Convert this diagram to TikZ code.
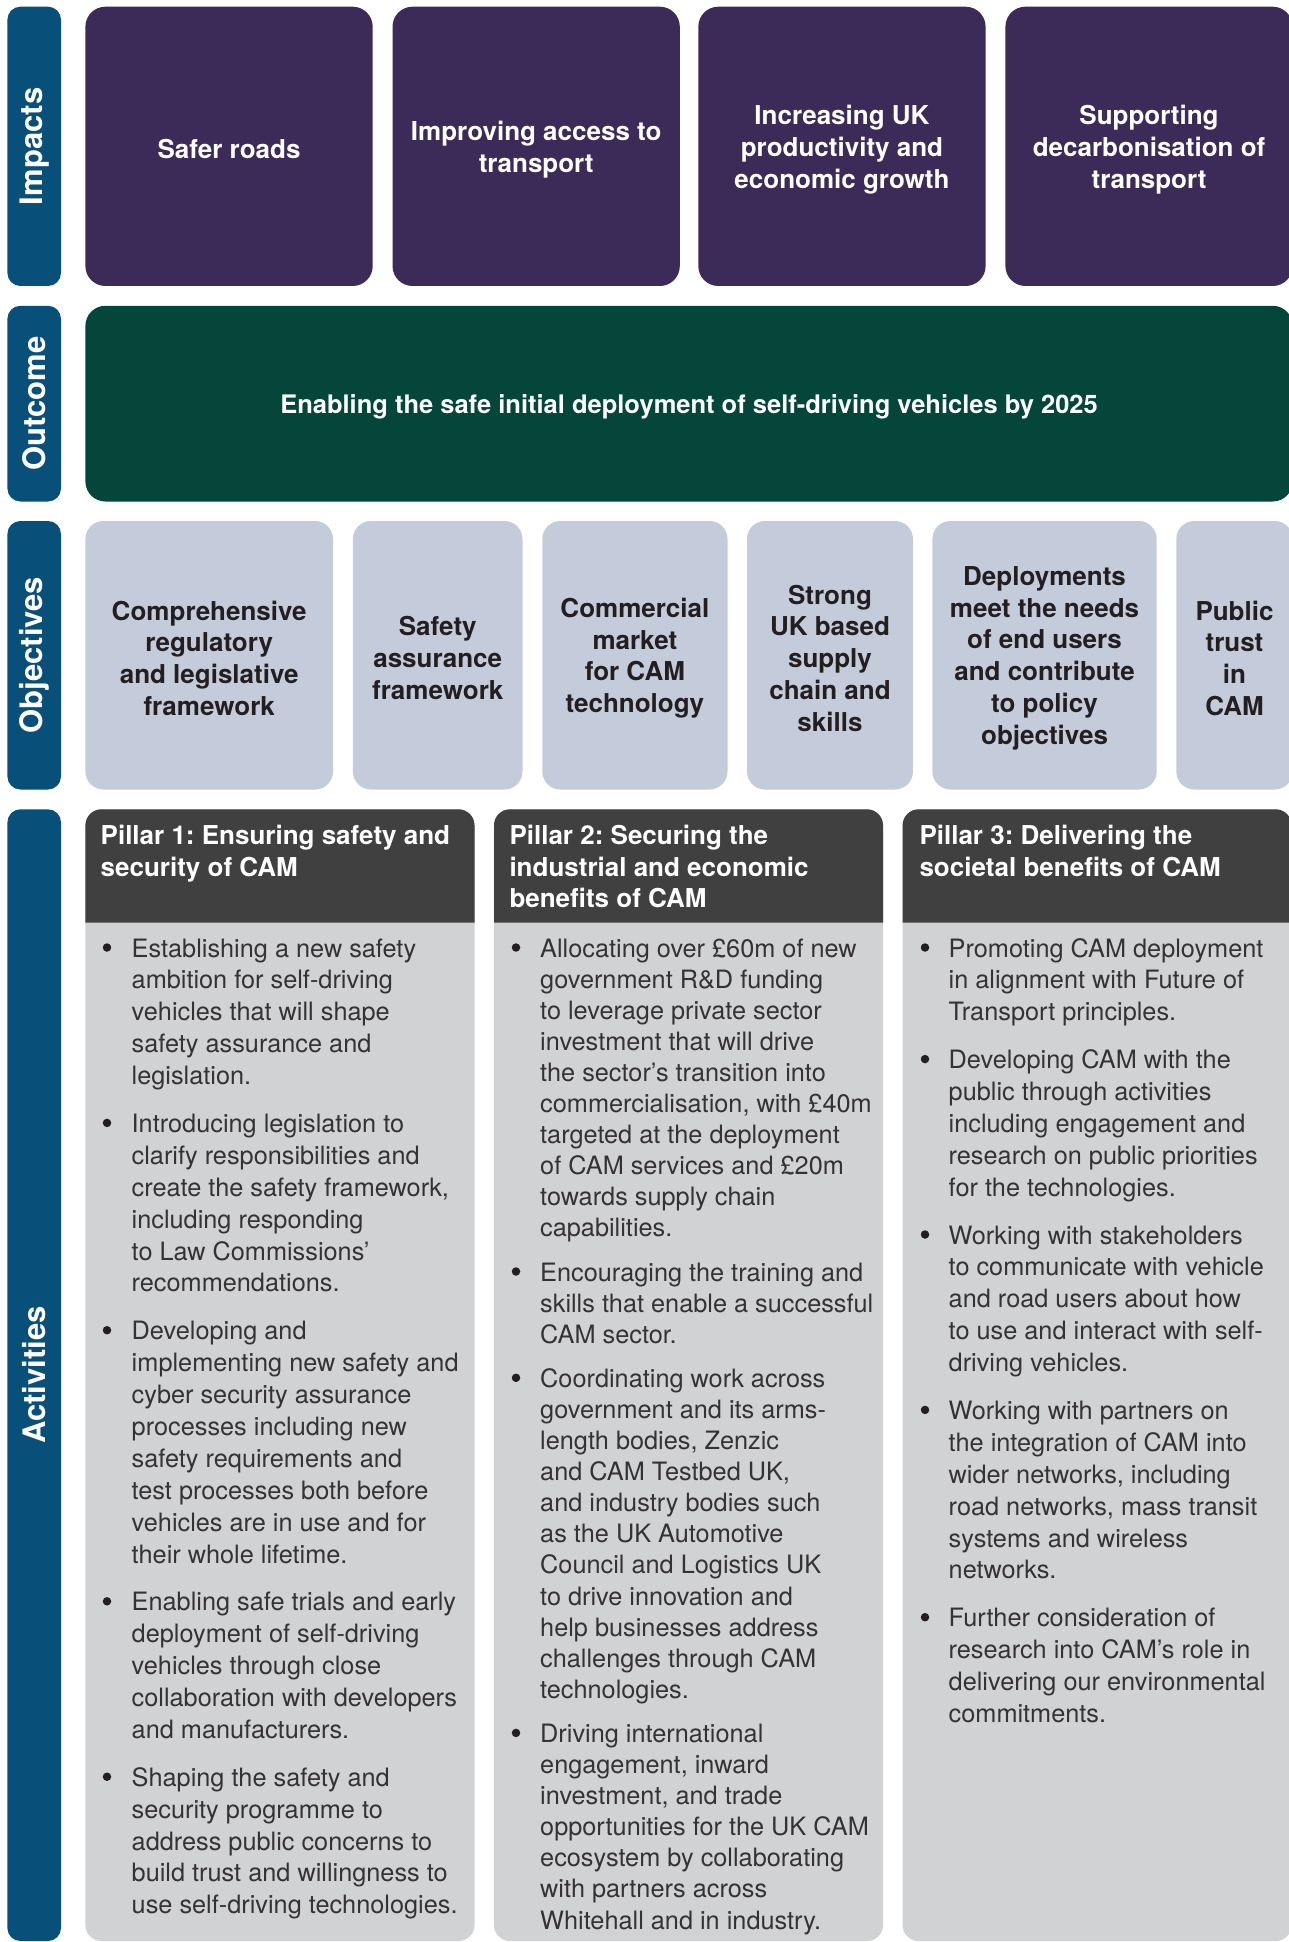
\documentclass[tikz,border=0pt]{standalone}
\usepackage{fontspec}
\setmainfont{TeX Gyre Heros}
\definecolor{tabblue}{HTML}{084F7A}
\definecolor{impactpurple}{HTML}{3C2A58}
\definecolor{outgreen}{HTML}{05463A}
\definecolor{objfill}{HTML}{C4CBDA}
\definecolor{hdrfill}{HTML}{404040}
\definecolor{bodyfill}{HTML}{D1D2D4}
\definecolor{textdark}{HTML}{231F20}
\definecolor{bodytext}{HTML}{353233}
\newcommand\cellpar[1]{\parbox[t]{400pt}{\raggedright\frenchspacing #1}}
\begin{document}
\frenchspacing
\begin{tikzpicture}[x=1pt,y=-1pt,
  tab/.style={fill=tabblue, rounded corners=13pt, inner sep=0pt, draw=none, minimum width=53.6pt},
  tablabel/.style={rotate=90, text=white, inner sep=0pt, font=\bfseries\fontsize{31}{36}\selectfont},
  impact/.style={fill=impactpurple, rounded corners=20pt, inner sep=0pt,
     minimum width=287.3pt, minimum height=279.3pt},
  impacttext/.style={text=white, align=center, inner sep=0pt, yshift=-3pt,
     font=\bfseries\fontsize{26}{31.9}\selectfont},
  outcome/.style={fill=outgreen, rounded corners=20pt, inner sep=0pt},
  outcometext/.style={text=white, align=center, inner sep=0pt, yshift=-3pt,
     font=\bfseries\fontsize{25.5}{31.9}\selectfont},
  objective/.style={fill=objfill, rounded corners=18pt, inner sep=0pt, minimum height=268.5pt},
  objtext/.style={text=textdark, align=center, inner sep=0pt, yshift=-3pt,
     font=\bfseries\fontsize{26}{31.8}\selectfont},
  pillar/.style={fill=bodyfill, rounded corners=16pt, inner sep=0pt, minimum width=389.1pt, minimum height=1131.7pt},
  hdrtext/.style={text=white, inner sep=0pt, anchor=base west, font=\bfseries\fontsize{26}{31.7}\selectfont},
  btxt/.style={text=bodytext, inner sep=0pt, anchor=base west, font=\fontsize{25.3}{31.9}\selectfont},
  btxtb/.style={text=bodytext, inner sep=0pt, anchor=base west, font=\fontsize{25.3}{31.1}\selectfont},
  bdot/.style={circle, fill=textdark, inner sep=0pt, minimum size=8.5pt}
]
\clip (0,0) rectangle (1289,1942);
\fill[white] (0,0) rectangle (1289,1942);

% ---------- side tabs ----------
\node[tab, minimum height=279.3pt] (tabI) at (34.2,146.35) {};
\node[tablabel] (labI) at (tabI.center) {Impacts};
\node[tab, minimum height=195.7pt] (tabO) at (34.2,403.65) {};
\node[tablabel] (labO) at (tabO.center) {Outcome};
\node[tab, minimum height=268.5pt] (tabB) at (34.2,655.25) {};
\node[tablabel] (labB) at (tabB.center) {Objectives};
\node[tab, minimum height=1131.7pt] (tabA) at (34.2,1375.15) {};
\node[tablabel] (labA) at (tabA.center) {Activities};

% ---------- impacts ----------
\node[impact] (i1) at (229.05,146.35) {};
\node[impacttext] (i1t) at (i1.center) {Safer roads};
\node[impact] (i2) at (536.15,146.35) {};
\node[impacttext] (i2t) at (i2.center) {Improving access to\\transport};
\node[impact] (i3) at (841.95,146.35) {};
\node[impacttext] (i3t) at (i3.center) {Increasing UK\\productivity and\\economic growth};
\node[impact] (i4) at (1149.05,146.35) {};
\node[impacttext] (i4t) at (i4.center) {Supporting\\decarbonisation of\\transport};

% ---------- outcome ----------
\node[outcome, minimum width=1207.3pt, minimum height=195.7pt] (out) at (689.05,403.65) {};
\node[outcometext] (outt) at (out.center) {Enabling the safe initial deployment of self-driving vehicles by 2025};

% ---------- objectives ----------
\node[objective, minimum width=247.6pt] (o1) at (209.2,655.25) {};
\node[objtext] (o1t) at (o1.center) {Comprehensive\\regulatory\\and legislative\\framework};
\node[objective, minimum width=169.6pt] (o2) at (437.7,655.25) {};
\node[objtext] (o2t) at (o2.center) {Safety\\assurance\\framework};
\node[objective, minimum width=185.2pt] (o3) at (634.9,655.25) {};
\node[objtext] (o3t) at (o3.center) {Commercial\\market\\for CAM\\technology};
\node[objective, minimum width=166pt] (o4) at (830,655.25) {};
\node[objtext] (o4t) at (o4.center) {Strong\\UK based\\supply\\chain and\\skills};
\node[objective, minimum width=224.3pt] (o5) at (1044.55,655.25) {};
\node[objtext] (o5t) at (o5.center) {Deployments\\meet the needs\\of end users\\and contribute\\to policy\\objectives};
\node[objective, minimum width=116.4pt] (o6) at (1234.5,655.25) {};
\node[objtext] (o6t) at (o6.center) {Public\\trust\\in\\CAM};

% ---------- pillars ----------
\node[pillar] (pill1) at (279.95,1375.15) {};
\node[pillar] (pill2) at (688.5,1375.15) {};
\node[pillar] (pill3) at (1097.1,1375.15) {};
\fill[hdrfill] (85.4,922.7) [rounded corners=16pt] -- (85.4,809.3) -- (474.5,809.3) [sharp corners] -- (474.5,922.7) -- cycle;
\fill[hdrfill] (494,922.7) [rounded corners=16pt] -- (494,809.3) -- (883,809.3) [sharp corners] -- (883,922.7) -- cycle;
\fill[hdrfill] (902.6,922.7) [rounded corners=16pt] -- (902.6,809.3) -- (1291.6,809.3) [sharp corners] -- (1291.6,922.7) -- cycle;

\node[hdrtext] (h1) at (100.5,844.3) {\cellpar{Pillar 1: Ensuring safety and\\security of CAM}};
\node[hdrtext] (h2) at (509.3,844.3) {\cellpar{Pillar 2: Securing the\\industrial and economic\\benefits of CAM}};
\node[hdrtext] (h3) at (919.3,844.3) {\cellpar{Pillar 3: Delivering the\\societal benefits of CAM}};

% ---------- pillar 1 bullets ----------
\node[bdot] (p1d1) at (107,947.5) {};
\node[btxt] (p1t1) at (131.5,957) {\cellpar{Establishing a new safety\\ambition for self-driving\\vehicles that will shape\\safety assurance and\\legislation.}};
\node[bdot] (p1d2) at (107,1122.9) {};
\node[btxt] (p1t2) at (131.5,1132.4) {\cellpar{Introducing legislation to\\clarify responsibilities and\\create the safety framework,\\including responding\\to Law Commissions’\\recommendations.}};
\node[bdot] (p1d3) at (107,1330.2) {};
\node[btxt] (p1t3) at (131.5,1339.7) {\cellpar{Developing and\\implementing new safety and\\cyber security assurance\\processes including new\\safety requirements and\\test processes both before\\vehicles are in use and for\\their whole lifetime.}};
\node[bdot] (p1d4) at (107,1601.3) {};
\node[btxt] (p1t4) at (131.5,1610.8) {\cellpar{Enabling safe trials and early\\deployment of self-driving\\vehicles through close\\collaboration with developers\\and manufacturers.}};
\node[bdot] (p1d5) at (107,1776.7) {};
\node[btxt] (p1t5) at (131.5,1786.2) {\cellpar{Shaping the safety and\\security programme to\\address public concerns to\\build trust and willingness to\\use self-driving technologies.}};

% ---------- pillar 2 bullets ----------
\node[bdot] (p2d1) at (516,947.5) {};
\node[btxtb] (p2t1) at (540,957) {\cellpar{Allocating over £60m of new\\government R\&D funding\\to leverage private sector\\investment that will drive\\the sector’s transition into\\commercialisation, with £40m\\targeted at the deployment\\of CAM services and £20m\\towards supply chain\\capabilities.}};
\node[bdot] (p2d2) at (516,1271.5) {};
\node[btxtb] (p2t2) at (540,1281) {\cellpar{Encouraging the training and\\skills that enable a successful\\CAM sector.}};
\node[bdot] (p2d3) at (516,1377.8) {};
\node[btxtb] (p2t3) at (540,1387.3) {\cellpar{Coordinating work across\\government and its arms-\\length bodies, Zenzic\\and CAM Testbed UK,\\and industry bodies such\\as the UK Automotive\\Council and Logistics UK\\to drive innovation and\\help businesses address\\challenges through CAM\\technologies.}};
\node[bdot] (p2d4) at (516,1732.9) {};
\node[btxtb] (p2t4) at (540,1742.4) {\cellpar{Driving international\\engagement, inward\\investment, and trade\\opportunities for the UK CAM\\ecosystem by collaborating\\with partners across\\Whitehall and in industry.}};

% ---------- pillar 3 bullets ----------
\node[bdot] (p3d1) at (925,947.5) {};
\node[btxt] (p3t1) at (948.5,957) {\cellpar{Promoting CAM deployment\\in alignment with Future of\\Transport principles.}};
\node[bdot] (p3d2) at (925,1059.1) {};
\node[btxt] (p3t2) at (948.5,1068.6) {\cellpar{Developing CAM with the\\public through activities\\including engagement and\\research on public priorities\\for the technologies.}};
\node[bdot] (p3d3) at (925,1234.5) {};
\node[btxt] (p3t3) at (948.5,1244) {\cellpar{Working with stakeholders\\to communicate with vehicle\\and road users about how\\to use and interact with self-\\driving vehicles.}};
\node[bdot] (p3d4) at (925,1409.9) {};
\node[btxt] (p3t4) at (948.5,1419.4) {\cellpar{Working with partners on\\the integration of CAM into\\wider networks, including\\road networks, mass transit\\systems and wireless\\networks.}};
\node[bdot] (p3d5) at (925,1617.2) {};
\node[btxt] (p3t5) at (948.5,1626.7) {\cellpar{Further consideration of\\research into CAM’s role in\\delivering our environmental\\commitments.}};
\end{tikzpicture}
\end{document}
